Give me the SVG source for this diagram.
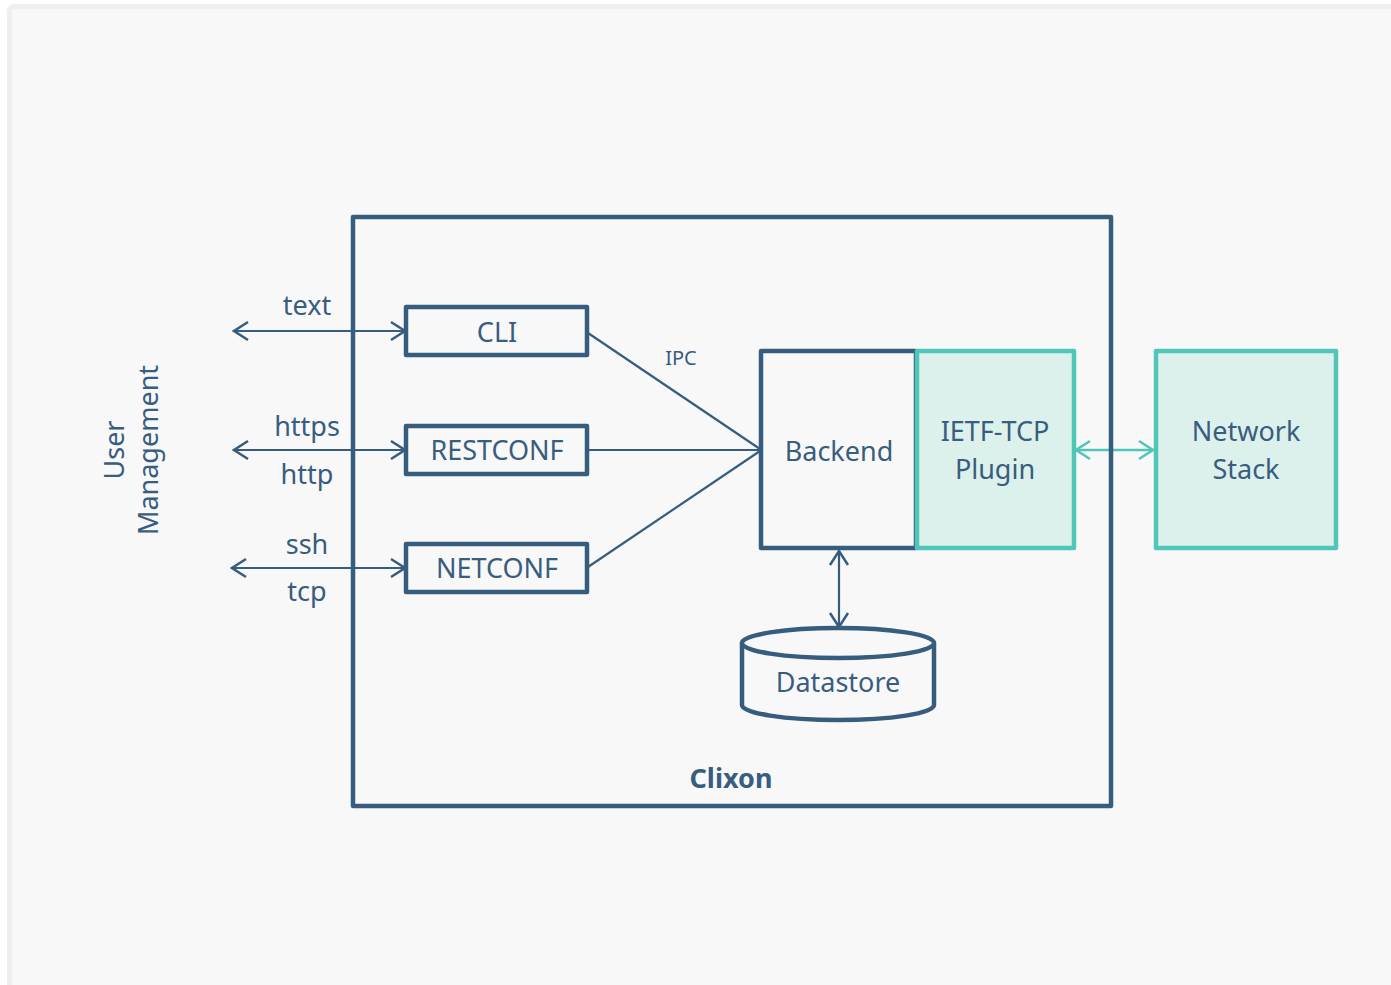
<svg xmlns="http://www.w3.org/2000/svg" width="1391" height="985" viewBox="0 0 1391 985">
<defs>
<style>
.t{font-family:"Noto Sans","Open Sans","DejaVu Sans",sans-serif;font-size:27px;fill:#385d7e;text-anchor:middle}
.box{fill:none;stroke:#375d7e;stroke-width:4.5;stroke-linejoin:round}
.tbox{fill:#dcf0ec;stroke:#4fc6b8;stroke-width:4.5;stroke-linejoin:round}
.c{fill:none;stroke:#375d7e;stroke-width:2.2}
.ct{fill:none;stroke:#4fc6b8;stroke-width:2.5}
</style>
<marker id="ah" viewBox="-16 -12 18 24" refX="0" refY="0" markerWidth="18" markerHeight="24" markerUnits="userSpaceOnUse" orient="auto-start-reverse">
<path d="M-14,-9 L0,0 L-14,9" fill="none" stroke="#375d7e" stroke-width="2.5"/>
</marker>
<marker id="aht" viewBox="-16 -12 18 24" refX="0" refY="0" markerWidth="18" markerHeight="24" markerUnits="userSpaceOnUse" orient="auto-start-reverse">
<path d="M-14,-9 L0,0 L-14,9" fill="none" stroke="#4fc6b8" stroke-width="2.5"/>
</marker>
</defs>
<rect x="0" y="0" width="1391" height="985" fill="#ffffff"/>
<rect x="9.5" y="6.5" width="1400" height="1000" rx="4" fill="#f8f8f8" stroke="#efefef" stroke-width="5"/>

<g id="connectors">
<line class="c" x1="234" y1="331" x2="405" y2="331" marker-start="url(#ah)" marker-end="url(#ah)"/>
<line class="c" x1="234" y1="450" x2="405" y2="450" marker-start="url(#ah)" marker-end="url(#ah)"/>
<line class="c" x1="232" y1="568" x2="405" y2="568" marker-start="url(#ah)" marker-end="url(#ah)"/>
<line class="c" x1="588" y1="333" x2="760" y2="449"/>
<line class="c" x1="588" y1="450" x2="760" y2="450"/>
<line class="c" x1="588" y1="567" x2="760" y2="451"/>
<line class="c" x1="839" y1="551" x2="839" y2="627" marker-start="url(#ah)" marker-end="url(#ah)"/>
<line class="ct" x1="1076" y1="450" x2="1153" y2="450" marker-start="url(#aht)" marker-end="url(#aht)"/>
<text class="t" x="307" y="315">text</text>
<text class="t" x="307" y="436">https</text>
<text class="t" x="307" y="484">http</text>
<text class="t" x="307" y="554">ssh</text>
<text class="t" x="307" y="601">tcp</text>
<text class="t" x="681" y="365" style="font-size:20px">IPC</text>
</g>

<g id="clixon">
<rect class="box" x="353" y="217" width="758" height="589"/>
<text class="t" x="731" y="788" style="font-weight:bold">Clixon</text>
</g>

<g id="user-management">
<text class="t" transform="translate(124,450) rotate(-90)">User</text>
<text class="t" transform="translate(158,450) rotate(-90)">Management</text>
</g>

<g id="cli">
<rect class="box" x="406" y="307" width="181" height="48"/>
<text class="t" x="497" y="342">CLI</text>
</g>

<g id="restconf">
<rect class="box" x="406" y="426" width="181" height="48"/>
<text class="t" x="497" y="460">RESTCONF</text>
</g>

<g id="netconf">
<rect class="box" x="406" y="544" width="181" height="48"/>
<text class="t" x="497" y="578">NETCONF</text>
</g>

<g id="backend">
<rect class="box" x="761" y="351" width="155" height="197"/>
<text class="t" x="839" y="461">Backend</text>
</g>

<g id="ietf-tcp-plugin">
<rect class="tbox" x="917" y="351" width="157" height="197"/>
<text class="t" x="995" y="441">IETF-TCP</text>
<text class="t" x="995" y="479">Plugin</text>
</g>

<g id="network-stack">
<rect class="tbox" x="1156" y="351" width="180" height="197"/>
<text class="t" x="1246" y="441">Network</text>
<text class="t" x="1246" y="479">Stack</text>
</g>

<g id="datastore">
<path d="M742,643 L742,705 A96,15 0 0 0 934,705 L934,643" fill="#f8f8f8" stroke="#375d7e" stroke-width="4.5"/>
<ellipse cx="838" cy="643" rx="96" ry="15" fill="#f8f8f8" stroke="#375d7e" stroke-width="4.5"/>
<text class="t" x="838" y="692">Datastore</text>
</g>
</svg>
